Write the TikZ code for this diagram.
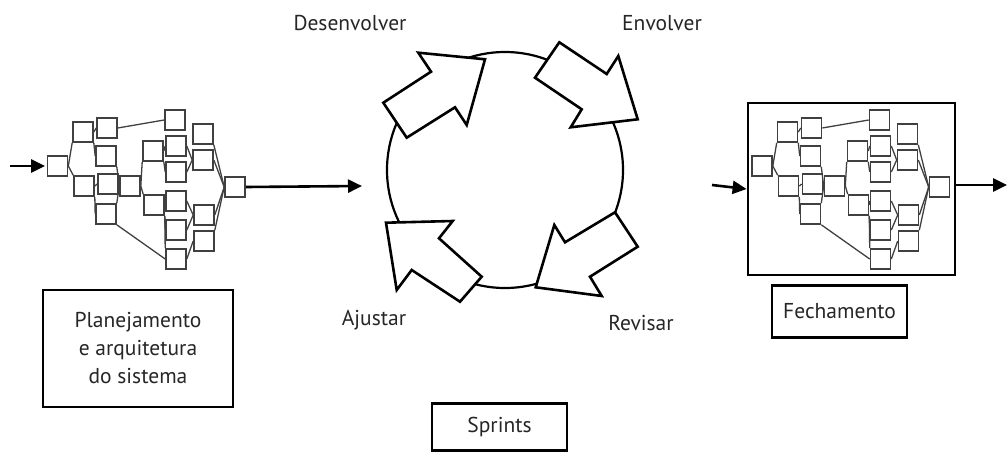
\documentclass[tikz,border=0pt]{standalone}
\usepackage{fontspec}
\setmainfont{PT Sans}
\usetikzlibrary{arrows.meta}

% one small network of tasks, placed in pixel units
\newcommand{\tasknet}{%
        \node [task] (a) at (57.5,166) {};
        \node [task] (b1) at (83,132) {};
        \node [task] (b2) at (84,186) {};
        \node [task] (c1) at (107,128) {};
        \node [task] (c2) at (106,156) {};
        \node [task] (c3) at (108,184) {};
        \node [task] (c4) at (106,214) {};
        \node [task] (d) at (130,186) {};
        \node [task] (e1) at (153,151) {};
        \node [task] (e2) at (154,205) {};
        \node [task] (f0) at (175,120) {};
        \node [task] (f1) at (176,146) {};
        \node [task] (f2) at (176,172) {};
        \node [task] (f3) at (176,201) {};
        \node [task] (f4) at (176,230) {};
        \node [task] (f5) at (176,259) {};
        \node [task] (g1) at (203,134) {};
        \node [task] (g2) at (203,160) {};
        \node [task] (g3) at (204,215) {};
        \node [task] (g4) at (204,241) {};
        \node [task] (h) at (235,187) {};
        \draw [link] (a.east) -- (b1.south west);
        \draw [link] (a.east) -- (b2.north west);
        \draw [link] (b1.east) -- (c1.west);
        \draw [link] (b1.south east) -- (c2.west);
        \draw [link] (b2.east) -- (c3.west);
        \draw [link] (b2.south east) -- (c4.west);
        \draw [link] (c1.east) -- (f0.west);
        \draw [link] (c2.south east) -- (d.west);
        \draw [link] (c4.north east) -- (d.west);
        \draw [link] (c4.south east) -- (f5.west);
        \draw [link] (d.east) -- (e1.south west);
        \draw [link] (d.east) -- (e2.north west);
        \draw [link] (e1.east) -- (f1.west);
        \draw [link] (e1.south east) -- (f2.west);
        \draw [link] (e2.east) -- (f3.west);
        \draw [link] (e2.south east) -- (f4.west);
        \draw [link] (e2.south east) -- (f5.north west);
        \draw [link] (f1.east) -- (g2.west);
        \draw [link] (f2.east) -- (g2.west);
        \draw [link] (f3.east) -- (g3.west);
        \draw [link] (f4.east) -- (g3.west);
        \draw [link] (f5.east) -- (g4.west);
        \draw [link] (g1.south east) -- (h.west);
        \draw [link] (g2.east) -- (h.west);
        \draw [link] (g3.east) -- (h.west);
        \draw [link] (g4.north east) -- (h.west);
}

\begin{document}
\begin{tikzpicture}[x=1pt,y=-1pt]
        \tikzstyle{task}=[draw=black!75, fill=white, line width=1.6pt, minimum size=20pt, inner sep=0pt]
        \tikzstyle{link}=[draw=black!75, line width=1.3pt]
        \tikzstyle{flow}=[line width=2.6pt, -{Triangle[length=14pt,width=13pt]}]
        \tikzstyle{frame}=[draw, line width=2.8pt, inner sep=0pt]
        \tikzstyle{label}=[font=\fontsize{21.5}{28}\selectfont, text=black!85]
        \tikzstyle{block}=[draw, line width=2.6pt, fill=white, line join=miter]
        \useasboundingbox (0,0) rectangle (1008,452);
        % left network
        \tasknet
        \coordinate (in) at (10,166);
        \coordinate (go) at (362,186);
        \draw [flow] (in) -- (45,166);
        \draw [flow] (h.east) -- (go);
        % the sprint cycle
        \node [draw, circle, line width=2.2pt, minimum size=236pt] (cyc) at (505,170) {};
        \draw [block] (383.3,102.7) -- (406.7,137.7) -- (455,107.3) -- (466.7,125) -- (485,59.3) -- (418.3,52.7) -- (431,71.7) -- cycle;
        \draw [block] (559.3,42.3) -- (606.7,74) -- (618.3,56) -- (637.7,119.3) -- (570.7,127.3) -- (581.7,109.3) -- (535,77.7) -- cycle;
        \draw [block] (615,212.3) -- (637.7,246.7) -- (590,276.7) -- (601.7,296) -- (535.7,287.3) -- (554.3,225) -- (565,242.3) -- cycle;
        \draw [block] (481.7,276.7) -- (460,301.7) -- (411.7,270) -- (396.7,290) -- (386,222.7) -- (452.7,221) -- (439,238.3) -- cycle;
        \node [label] (dev) at (350,23) {Desenvolver};
        \node [label] (env) at (662,23) {Envolver};
        \node [label] (adj) at (374,320) {Ajustar};
        \node [label] (rev) at (641,323) {Revisar};
        % right network in its frame
        \node [frame, minimum width=207pt, minimum height=172pt] (close) at (851.5,189) {};
        \begin{scope}[xshift=704.5pt, name prefix=r-]
        \tasknet
        \end{scope}
        \coordinate (rin) at (712,185);
        \coordinate (rout) at (1007,185);
        \draw [flow] (rin) -- (close.west);
        \draw [flow] (close.east |- rout) -- (rout);
        % captions
        \node [frame, label, align=center, minimum width=190pt, minimum height=117pt] (plan) at (138,348.5) {Planejamento\\e arquitetura\\do sistema};
        \node [frame, label, minimum width=135pt, minimum height=52pt] (fech) at (839.5,311.5) {Fechamento};
        \node [frame, label, minimum width=135pt, minimum height=47pt] (spr) at (499.5,427) {Sprints};
\end{tikzpicture}
\end{document}
